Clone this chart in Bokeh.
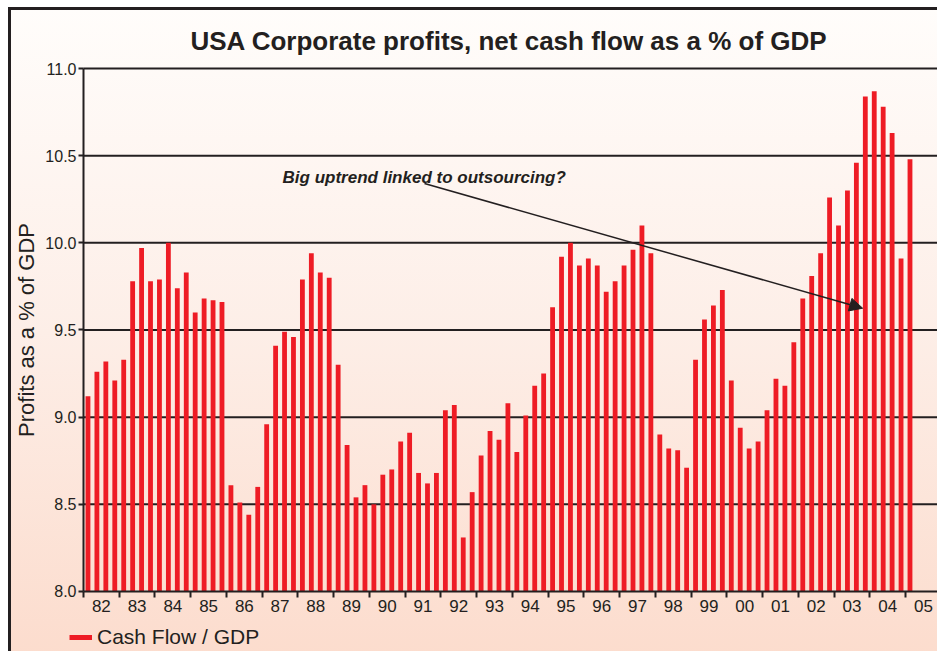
from bokeh.plotting import figure
from bokeh.models import (Range1d, FixedTicker, Legend, LegendItem, Label, Arrow,
                          NormalHead, ColumnDataSource)
from bokeh.embed import file_html
from bokeh.resources import INLINE

# ---------------- data ----------------
years = list(range(1982, 2006))
year_labels = ["82", "83", "84", "85", "86", "87", "88", "89", "90", "91", "92", "93",
               "94", "95", "96", "97", "98", "99", "00", "01", "02", "03", "04", "05"]

cash_flow_gdp = [
    9.12, 9.26, 9.32, 9.21,     # 1982
    9.33, 9.78, 9.97, 9.78,     # 1983
    9.79, 10.00, 9.74, 9.83,    # 1984
    9.60, 9.68, 9.67, 9.66,     # 1985
    8.61, 8.51, 8.44, 8.60,     # 1986
    8.96, 9.41, 9.49, 9.46,     # 1987
    9.79, 9.94, 9.83, 9.80,     # 1988
    9.30, 8.84, 8.54, 8.61,     # 1989
    8.50, 8.67, 8.70, 8.86,     # 1990
    8.91, 8.68, 8.62, 8.68,     # 1991
    9.04, 9.07, 8.31, 8.57,     # 1992
    8.78, 8.92, 8.87, 9.08,     # 1993
    8.80, 9.01, 9.18, 9.25,     # 1994
    9.63, 9.92, 10.00, 9.87,    # 1995
    9.91, 9.87, 9.72, 9.78,     # 1996
    9.87, 9.96, 10.10, 9.94,    # 1997
    8.90, 8.82, 8.81, 8.71,     # 1998
    9.33, 9.56, 9.64, 9.73,     # 1999
    9.21, 8.94, 8.82, 8.86,     # 2000
    9.04, 9.22, 9.18, 9.43,     # 2001
    9.68, 9.81, 9.94, 10.26,    # 2002
    10.10, 10.30, 10.46, 10.84, # 2003
    10.87, 10.78, 10.63, 9.91,  # 2004
    10.48,                      # 2005
]
quarter_x = [years[0] + (i + 0.5) * 0.25 for i in range(len(cash_flow_gdp))]

y_ticks = [8.0, 8.5, 9.0, 9.5, 10.0, 10.5, 11.0]
y_tick_labels = ["8.0", "8.5", "9.0", "9.5", "10.0", "10.5", "11.0"]

DARK = "#231f20"
RED = "#ee1c25"
FONT = "Liberation Sans"

PX_PER_YEAR = 35.74
PX_PER_UNIT = 174.33
X0 = years[0] - 83 / PX_PER_YEAR          # room on the left for the y axis
X1 = years[0] + 854 / PX_PER_YEAR
Y0 = y_ticks[0] - 60 / PX_PER_UNIT        # room at the bottom for x labels + legend
Y1 = y_ticks[-1] + 10 / PX_PER_UNIT       # room above for the top tick label

p = figure(width=937, height=651,
           x_range=Range1d(X0, X1), y_range=Range1d(Y0, Y1),
           output_backend="svg", toolbar_location=None,
           min_border_left=0, min_border_right=0, min_border_top=58, min_border_bottom=0,
           background_fill_alpha=0, border_fill_alpha=0, outline_line_color=None)
p.styles = {
    "background": ("linear-gradient(#231f20, #231f20) 8px 7px / 3px 100% no-repeat, "
                   "linear-gradient(#231f20, #231f20) 8px 7px / 100% 3px no-repeat, "
                   "linear-gradient(to bottom, #fffdfb 0%, #fdeee7 50%, #fcdccd 100%) 8px 8px / 100% 100% no-repeat, "
                   "#ffffff"),
}

p.title.text = "USA Corporate profits, net cash flow as a % of GDP"
p.title.align = "left"
p.title.offset = 190
p.title.standoff = 6
p.title.text_font = FONT
p.title.text_font_size = "26px"
p.title.text_font_style = "bold"
p.title.text_color = DARK

# horizontal grid lines (drawn from the axis to the right edge)
p.segment(x0=years[0], x1=X1, y0=y_ticks[1:], y1=y_ticks[1:],
          line_color=DARK, line_width=2)

src = ColumnDataSource(dict(x=quarter_x, top=cash_flow_gdp))
bars = p.vbar(x="x", top="top", bottom=y_ticks[0], width=0.135, source=src,
              fill_color=RED, line_color=None)

# legend swatch proxy: a one-point line (draws nothing itself)
proxy = p.line(x=quarter_x[:1], y=cash_flow_gdp[:1], line_color=RED, line_width=5)

# axes
xa = p.xaxis[0]
xa.fixed_location = y_ticks[0]
xa.bounds = (years[0], X1)
xa.ticker = FixedTicker(ticks=[y + 0.5 for y in years], minor_ticks=years)
xa.major_label_overrides = {y + 0.5: lab for y, lab in zip(years, year_labels)}
xa.major_tick_out = 0
xa.major_tick_in = 0
xa.minor_tick_out = 6
xa.minor_tick_in = 0
xa.minor_tick_line_color = DARK
xa.minor_tick_line_width = 2
xa.axis_line_color = DARK
xa.axis_line_width = 2
xa.major_label_text_font = FONT
xa.major_label_text_font_size = "17px"
xa.major_label_text_color = DARK
xa.major_label_standoff = 3

ya = p.yaxis[0]
ya.fixed_location = years[0]
ya.bounds = (y_ticks[0], y_ticks[-1])
ya.ticker = FixedTicker(ticks=y_ticks)
ya.major_label_overrides = {t: lab for t, lab in zip(y_ticks, y_tick_labels)}
ya.major_tick_out = 5
ya.major_tick_in = 0
ya.major_tick_line_color = DARK
ya.major_tick_line_width = 2
ya.minor_tick_line_color = None
ya.axis_line_color = DARK
ya.axis_line_width = 2
ya.major_label_text_font = FONT
ya.major_label_text_font_size = "16px"
ya.major_label_text_color = DARK
ya.major_label_standoff = 2
ya.axis_label = "Profits as a % of GDP"
ya.axis_label_text_font = FONT
ya.axis_label_text_font_size = "22px"
ya.axis_label_text_font_style = "normal"
ya.axis_label_text_color = DARK
ya.axis_label_standoff = 3

p.xgrid.visible = False
p.ygrid.visible = False

# annotation
p.add_layout(Label(x=1987.57, y=10.375, text="Big uptrend linked to outsourcing?",
                   text_font=FONT, text_font_style="bold italic", text_font_size="17px",
                   text_color=DARK, text_baseline="alphabetic"))
p.add_layout(Arrow(x_start=1991.54, y_start=10.34, x_end=2003.8, y_end=9.625,
                   line_color=DARK, line_width=1.5,
                   end=NormalHead(size=13, fill_color=DARK, line_color=DARK)))

legend = Legend(items=[LegendItem(label="Cash Flow / GDP", renderers=[proxy])],
                location=(69, 2), orientation="horizontal",
                glyph_width=23, glyph_height=24, label_height=24,
                label_text_font=FONT, label_text_font_size="21px", label_text_color=DARK,
                label_standoff=5, padding=0, margin=0, spacing=0,
                border_line_color=None, background_fill_alpha=0)
p.add_layout(legend)

open("out.html", "w").write(file_html(p, INLINE))
